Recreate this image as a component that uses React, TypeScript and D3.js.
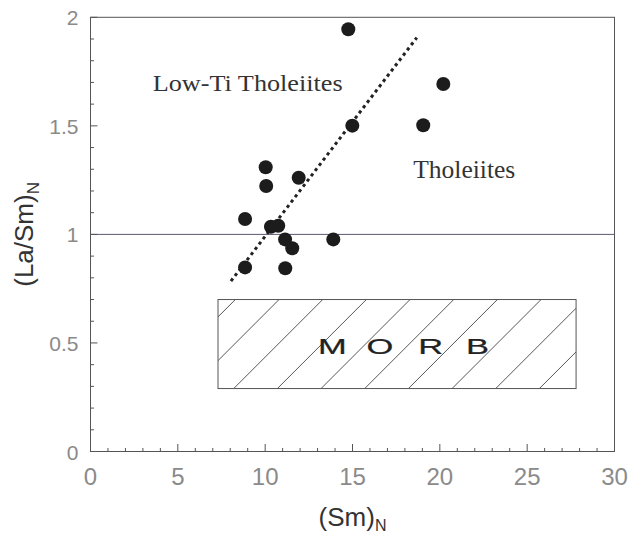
import React from "react";
import * as d3 from "d3";

// Normalised Sm versus La/Sm for the basalt samples
const smN = [14.76, 14.99, 10.03, 10.06, 11.92, 8.85, 10.33, 10.75, 11.14, 13.9, 11.55, 8.85, 11.15, 20.2, 19.05];
const laSmN = [1.945, 1.501, 1.309, 1.223, 1.261, 1.071, 1.035, 1.04, 0.977, 0.977, 0.936, 0.848, 0.844, 1.693, 1.503];

// Trend through the low-Ti group
const trendSm = [8.04, 18.68];
const trendLaSm = [0.785, 1.906];

// MORB field
const morbSm = [7.3, 27.8];
const morbLaSm = [0.29, 0.7];
const morbLetters = ["M", "O", "R", "B"];
const morbLetterSm = [13.85, 16.57, 19.48, 22.16];
const morbLabelLaSm = 0.448;

// Boundary between the tholeiite fields
const boundaryLaSm = 1;

const xTickLabels = ["0", "5", "10", "15", "20", "25", "30"];
const yTickLabels = ["0", "0.5", "1", "1.5", "2"];

const W = 629;
const H = 537;

export default function App() {
  const x = d3.scaleLinear().domain([0, 30]).range([90.5, 614.5]);
  const y = d3.scaleLinear().domain([0, 2]).range([451.5, 17.3]);

  const [x0, x1] = x.range();
  const [yb, yt] = y.range();

  const xMinor = d3.range(0, 31, 1);
  const yMinor = d3.range(0, 2.001, 0.1).map((v) => +v.toFixed(1));

  const axisColor = "#555";
  const tickText = "#8a8a8a";

  // hatch lines for the MORB box, drawn at 45 degrees in screen space
  const bx0 = x(morbSm[0]);
  const bx1 = x(morbSm[1]);
  const by0 = y(morbLaSm[1]);
  const by1 = y(morbLaSm[0]);
  const bh = by1 - by0;
  const step = x(2.5) - x(0);
  const phase = x(8.2);
  const hatch: number[] = [];
  let s = phase;
  while (s > bx0 - bh) s -= step;
  for (; s < bx1; s += step) hatch.push(s);

  const trendLine = d3
    .line<number>()
    .x((d) => x(trendSm[d]))
    .y((d) => y(trendLaSm[d]))([0, 1]);

  return (
    <svg
      width={W}
      height={H}
      style={{ position: "absolute", left: 0, top: 0, background: "#fff" }}
      fontFamily="Liberation Sans, Arial, sans-serif"
    >
      <defs>
        <clipPath id="morb-clip">
          <rect x={bx0} y={by0} width={bx1 - bx0} height={bh} />
        </clipPath>
      </defs>

      {/* frame */}
      <rect x={x0} y={yt} width={x1 - x0} height={yb - yt} fill="none" stroke={axisColor} strokeWidth={1} />

      {/* boundary at La/Sm = 1 */}
      <line x1={x0} x2={x1} y1={y(boundaryLaSm)} y2={y(boundaryLaSm)} stroke="#5c5872" strokeWidth={1} />

      {/* x ticks */}
      {xMinor.map((v) => (
        <line
          key={"xt" + v}
          x1={x(v)}
          x2={x(v)}
          y1={yb}
          y2={yb - (v % 5 === 0 ? 7.5 : 3.5)}
          stroke={axisColor}
          strokeWidth={1}
        />
      ))}
      {xTickLabels.map((t) => (
        <text key={"xl" + t} x={x(+t)} y={485} textAnchor="middle" fontSize={24} fill={tickText}>
          {t}
        </text>
      ))}

      {/* y ticks */}
      {yMinor.map((v) => (
        <line
          key={"yt" + v}
          x1={x0}
          x2={x0 + (Math.round(v * 10) % 5 === 0 ? 7 : 3.5)}
          y1={y(v)}
          y2={y(v)}
          stroke={axisColor}
          strokeWidth={1}
        />
      ))}
      {yTickLabels.map((t) => (
        <text key={"yl" + t} x={78.5} y={y(+t) + 8} textAnchor="end" fontSize={21} fill={tickText}>
          {t}
        </text>
      ))}

      {/* axis titles */}
      <text x={x(15)} y={526} textAnchor="middle" fontSize={26} fill="#333">
        (Sm)
        <tspan fontSize={16} dy={5}>
          N
        </tspan>
      </text>
      <text
        transform={`translate(33, ${(yb + yt) / 2}) rotate(-90)`}
        textAnchor="middle"
        fontSize={26}
        fill="#333"
      >
        (La/Sm)
        <tspan fontSize={17} dy={6}>
          N
        </tspan>
      </text>

      {/* MORB field */}
      <g clipPath="url(#morb-clip)">
        {hatch.map((b, i) => (
          <line key={"h" + i} x1={b} y1={by1} x2={b + bh} y2={by0} stroke="#444" strokeWidth={0.9} />
        ))}
      </g>
      <rect x={bx0} y={by0} width={bx1 - bx0} height={bh} fill="none" stroke="#555" strokeWidth={1} />
      {morbLetters.map((l, i) => (
        <text
          key={"m" + l}
          transform={`translate(${x(morbLetterSm[i])}, ${y(morbLabelLaSm)}) scale(1.5,1)`}
          textAnchor="middle"
          fontSize={23}
          fill="#222"
          stroke="#222"
          strokeWidth={0.25}
        >
          {l}
        </text>
      ))}

      {/* field labels */}
      <text
        x={x(3.56)}
        y={y(1.661)}
        fontFamily="Liberation Serif, Times New Roman, serif"
        fontSize={24}
        fill="#333"
        textLength={190}
        lengthAdjust="spacingAndGlyphs"
      >
        Low-Ti Tholeiites
      </text>
      <text
        x={x(18.48)}
        y={y(1.258)}
        fontFamily="Liberation Serif, Times New Roman, serif"
        fontSize={25}
        fill="#333"
        textLength={102}
        lengthAdjust="spacingAndGlyphs"
      >
        Tholeiites
      </text>

      {/* trend line */}
      <path d={trendLine ?? ""} fill="none" stroke="#222" strokeWidth={3} strokeDasharray="3.2,3.4" />

      {/* samples */}
      {smN.map((v, i) => (
        <circle key={"p" + i} cx={x(v)} cy={y(laSmN[i])} r={7} fill="#1c1c1c" />
      ))}
    </svg>
  );
}
